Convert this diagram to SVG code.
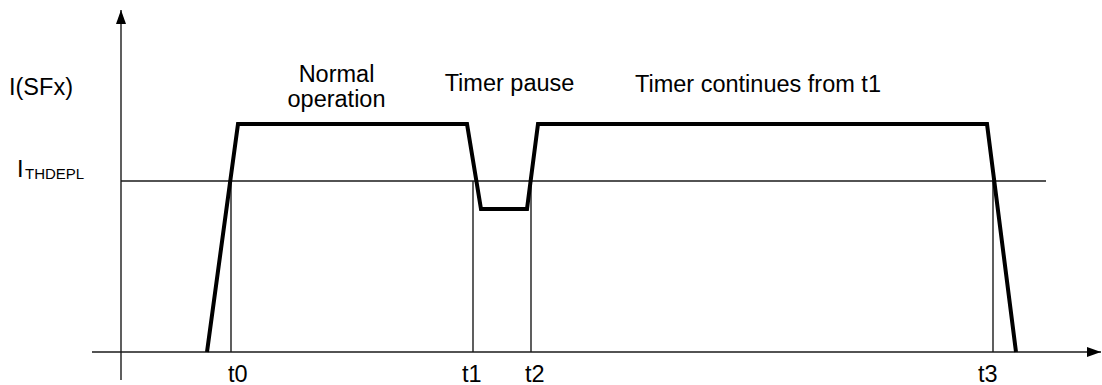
<svg xmlns="http://www.w3.org/2000/svg" width="1102" height="385" viewBox="0 0 1102 385">
<style>
.thin{stroke:#1a1a1a;stroke-width:1.4;fill:none}
.wave{stroke:#000;stroke-width:4;fill:none;stroke-linejoin:miter}
.lbl{font-family:"Liberation Sans",Arial,sans-serif;font-size:23.5px;fill:#000}
.sub{font-family:"Liberation Sans",Arial,sans-serif;font-size:15px;fill:#000}
</style>
<defs>
<marker id="arr" markerWidth="14" markerHeight="10" refX="14" refY="5" orient="auto" markerUnits="userSpaceOnUse">
<path d="M0,0 L14,5 L0,10 Z" fill="#000"/>
</marker>
</defs>
<g id="connectors">
<line class="thin" x1="121" y1="380" x2="121" y2="10" marker-end="url(#arr)"/>
<line class="thin" x1="92" y1="352" x2="1101" y2="352" marker-end="url(#arr)"/>
<line class="thin" x1="121" y1="181" x2="1046" y2="181"/>
<line class="thin" x1="231" y1="181" x2="231" y2="352"/>
<line class="thin" x1="473" y1="181" x2="473" y2="352"/>
<line class="thin" x1="531" y1="181" x2="531" y2="352"/>
<line class="thin" x1="993" y1="181" x2="993" y2="352"/>
</g>
<g id="waveform">
<polyline class="wave" points="207,352 238,124 467,124 481,209 527,209 538,124 987,124 1016,352"/>
</g>
<g id="labels">
<text class="lbl" x="9" y="95">I(SFx)</text>
<text class="lbl" x="17" y="177">I<tspan class="sub" x="25" y="179">THDEPL</tspan></text>
<text class="lbl" x="336.5" y="82" text-anchor="middle">Normal</text>
<text class="lbl" x="336.5" y="107" text-anchor="middle">operation</text>
<text class="lbl" x="509.5" y="91" text-anchor="middle">Timer pause</text>
<text class="lbl" x="635" y="92">Timer continues from t1</text>
<text class="lbl" x="228" y="382">t0</text>
<text class="lbl" x="462" y="382">t1</text>
<text class="lbl" x="525" y="382">t2</text>
<text class="lbl" x="978" y="382">t3</text>
</g>
</svg>
